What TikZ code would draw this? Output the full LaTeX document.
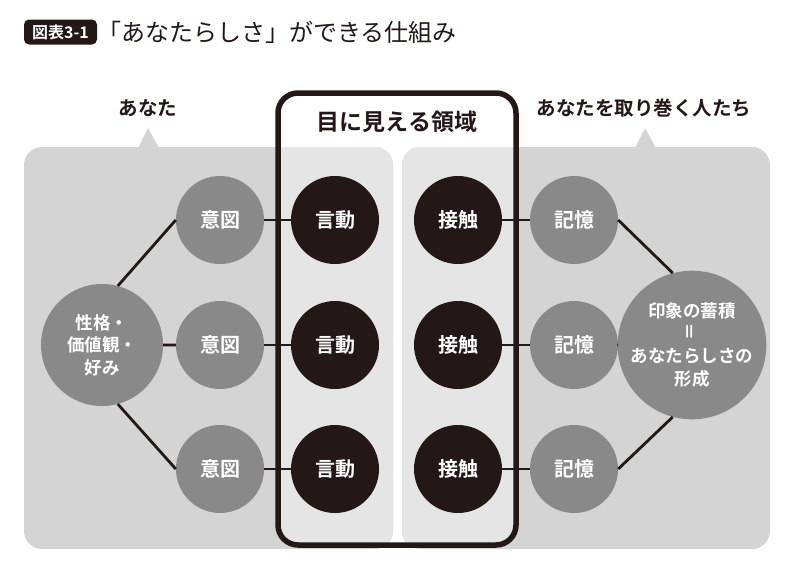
\documentclass[tikz,border=0pt]{standalone}
\usepackage{fontspec}
\setmainfont{Noto Sans CJK JP}[BoldFont={Noto Sans CJK JP Bold}]
\usetikzlibrary{positioning}
\definecolor{mypanel}{HTML}{D4D4D4}
\definecolor{myinner}{HTML}{E5E5E5}
\definecolor{mygray}{HTML}{898989}
\definecolor{myblack}{HTML}{231815}

\begin{document}
\begin{tikzpicture}[x=1pt, y=-1pt,
        gc/.style={circle, fill=mygray, text=white, minimum size=88pt,
                   inner sep=0pt, font=\fontsize{20}{22}\selectfont\bfseries},
        bc/.style={gc, fill=myblack},
        big/.style={gc, minimum size=122pt, align=center,
                    font=\fontsize{17.5}{22.5}\selectfont\bfseries},
        link/.style={myblack, line width=2.8pt},
        lbl/.style={text=myblack, font=\fontsize{19.5}{22}\selectfont\bfseries}
      ]
        \useasboundingbox (0,0) rectangle (794,570);
        % panels
        \fill[mypanel, rounded corners=18pt] (24,147) rectangle (393,549);
        \fill[mypanel, rounded corners=18pt] (402,147) rectangle (770,549);
        \fill[mypanel] (138,148) -- (148,128) -- (159,148) -- cycle;
        \fill[mypanel] (635,148) -- (645,128) -- (656,148) -- cycle;
        \begin{scope}
          \clip[rounded corners=20pt] (278,93) rectangle (516,545);
          \fill[myinner, rounded corners=18pt] (24,147) rectangle (393,549);
          \fill[myinner, rounded corners=18pt] (402,147) rectangle (770,549);
        \end{scope}
        \draw[myblack, line width=5.5pt, rounded corners=20pt] (278,93) rectangle (516,545);
        % title
        \node[fill=myblack, text=white, rounded corners=5pt, inner sep=0pt,
              minimum width=73pt, minimum height=25pt,
              font=\fontsize{16}{17}\selectfont\bfseries] (tag) at (60.5,32) {図表3-1};
        \node[anchor=west, inner sep=0pt, text=myblack,
              font=\fontsize{24}{26}\selectfont] (title) at (97,32) {「あなたらしさ」ができる仕組み};
        % labels
        \node[lbl] (you) at (148,108) {あなた};
        \node[lbl] (others) at (644,108) {あなたを取り巻く人たち};
        \node[lbl, font=\fontsize{23}{26}\selectfont\bfseries] (visible) at (397,122) {目に見える領域};
        % circles
        \node[big] (trait) at (102,345) {性格・\\価値観・\\好み};
        \node[gc] (int1) at (220,220) {意図};
        \node[gc] (int2) at (220,345) {意図};
        \node[gc] (int3) at (220,469) {意図};
        \node[bc] (act1) at (335,220) {言動};
        \node[bc] (act2) at (335,345) {言動};
        \node[bc] (act3) at (335,469) {言動};
        \node[bc] (cont1) at (458,220) {接触};
        \node[bc] (cont2) at (458,345) {接触};
        \node[bc] (cont3) at (458,469) {接触};
        \node[gc] (mem1) at (574,220) {記憶};
        \node[gc] (mem2) at (574,345) {記憶};
        \node[gc] (mem3) at (574,469) {記憶};
        \node[big] (impr) at (692,345) {印象の蓄積\\\rotatebox{90}{＝}\\あなたらしさの\\形成};
        % links
        \draw[link] (trait.75) -- (int1.west) (trait.east) -- (int2.west)
                    (trait.-75) -- (int3.west);
        \draw[link] (int1) -- (act1) (int2) -- (act2) (int3) -- (act3);
        \draw[link] (cont1) -- (mem1) (cont2) -- (mem2) (cont3) -- (mem3);
        \draw[link] (mem1.east) -- (impr.105) (mem2.east) -- (impr.west)
                    (mem3.east) -- (impr.-105);
      \end{tikzpicture}
\end{document}
